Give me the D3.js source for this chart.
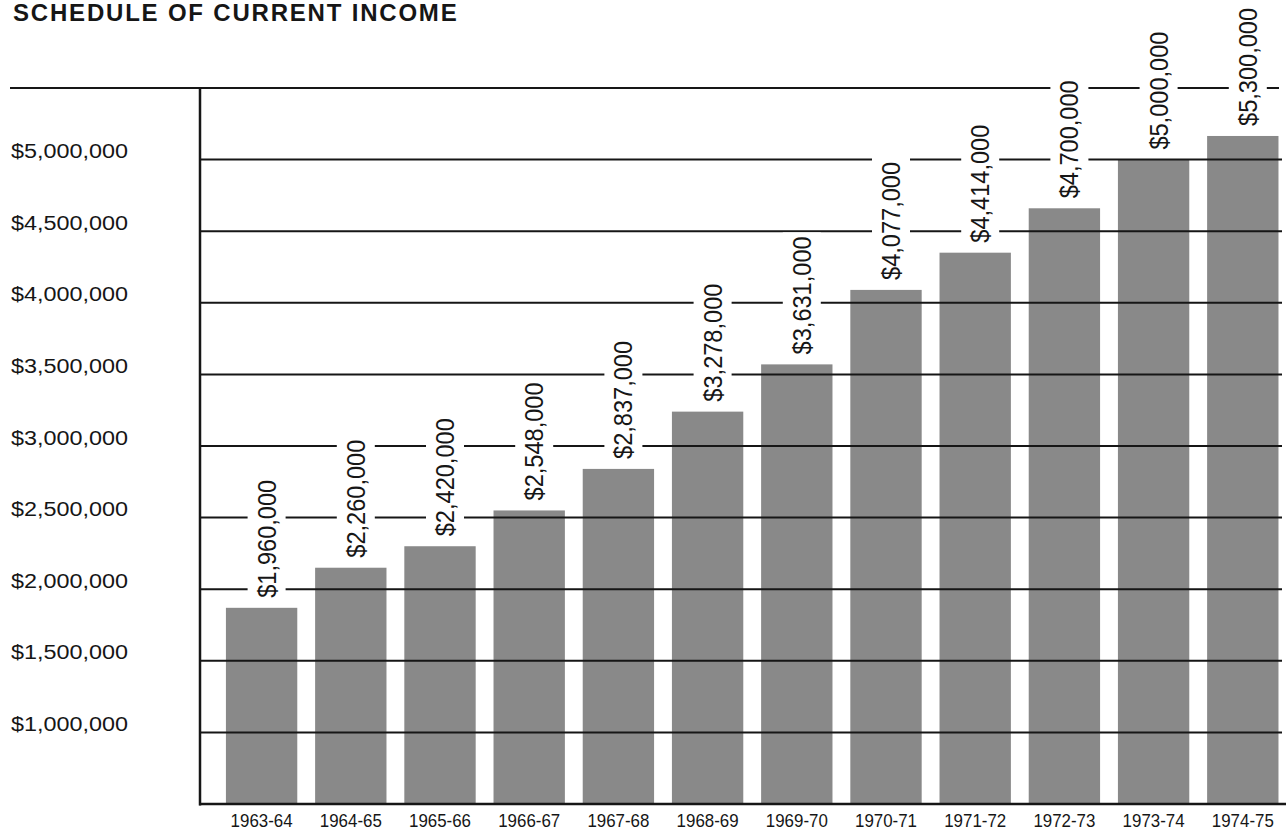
<!DOCTYPE html>
<html>
<head>
<meta charset="utf-8">
<script src="https://cdn.jsdelivr.net/npm/d3@7"></script>
<style>
  html, body { margin: 0; padding: 0; background: #ffffff; }
  svg { display: block; font-family: "Liberation Sans", Arial, Helvetica, sans-serif; }
</style>
</head>
<body>
<svg id="chart" width="1288" height="832"></svg>
<script>
// ---- data ----
const categories = ["1963-64","1964-65","1965-66","1966-67","1967-68","1968-69","1969-70","1970-71","1971-72","1972-73","1973-74","1974-75"];
// bar heights as drawn in the picture
const barValues = [1870000, 2150000, 2300000, 2550000, 2840000, 3240000, 3570000, 4090000, 4350000, 4660000, 5000000, 5165000];
// printed value labels
const valueLabels = ["$1,960,000","$2,260,000","$2,420,000","$2,548,000","$2,837,000","$3,278,000","$3,631,000","$4,077,000","$4,414,000","$4,700,000","$5,000,000","$5,300,000"];
const yTicks = [1000000, 1500000, 2000000, 2500000, 3000000, 3500000, 4000000, 4500000, 5000000];
const yTop = 5500000;
const yBase = 500000;
const title = "SCHEDULE OF CURRENT INCOME";

// ---- layout ----
const svg = d3.select("#chart");
const ink = "#161616";
const axisX = 200;

const x = d3.scaleBand().domain(categories).range([217, 1287.4]).paddingInner(0.2).paddingOuter(0.1);
const y = d3.scaleLinear().domain([yBase, yTop]).range([804, 88]);
const fmt = d3.format("$,");

// title
svg.append("text")
  .attr("x", 13).attr("y", 21)
  .attr("font-size", 24).attr("font-weight", "bold")
  .attr("letter-spacing", "1.8px")
  .attr("fill", ink)
  .text(title);

// bars
svg.append("g").selectAll("rect")
  .data(categories)
  .join("rect")
  .attr("x", d => x(d))
  .attr("width", x.bandwidth())
  .attr("y", (d, i) => y(barValues[i]))
  .attr("height", (d, i) => y(yBase) - y(barValues[i]))
  .attr("fill", "#898989");

// gridlines (drawn over bars)
svg.append("g").selectAll("line")
  .data(yTicks)
  .join("line")
  .attr("x1", axisX).attr("x2", 1282)
  .attr("y1", d => y(d)).attr("y2", d => y(d))
  .attr("stroke", ink).attr("stroke-width", 2);

// top line
svg.append("line")
  .attr("x1", 10).attr("x2", 1279)
  .attr("y1", y(yTop)).attr("y2", y(yTop))
  .attr("stroke", ink).attr("stroke-width", 2);

// y tick labels
svg.append("g").selectAll("text")
  .data(yTicks)
  .join("text")
  .attr("x", 11)
  .attr("y", d => y(d) - 1.5)
  .attr("font-size", 20)
  .attr("textLength", 117)
  .attr("lengthAdjust", "spacingAndGlyphs")
  .attr("fill", ink)
  .text(d => fmt(d));

// value labels with white knockout behind them
const lblSize = 25, lblLen = 118, lblGap = 10, lblOffset = 14;
const labels = svg.append("g").selectAll("g")
  .data(categories)
  .join("g")
  .attr("transform", (d, i) => `translate(${x(d) + x.bandwidth() / 2 + lblOffset},${y(barValues[i]) - lblGap})`);

labels.append("rect")
  .attr("x", -28).attr("width", 38)
  .attr("y", -lblLen - 4).attr("height", lblLen + 7)
  .attr("fill", "#ffffff");
labels.append("text")
  .attr("transform", "rotate(-90)")
  .attr("font-size", lblSize)
  .attr("textLength", lblLen)
  .attr("lengthAdjust", "spacingAndGlyphs")
  .attr("fill", ink)
  .text((d, i) => valueLabels[i]);

// axes
svg.append("line")
  .attr("x1", axisX).attr("x2", axisX)
  .attr("y1", y(yTop) - 1).attr("y2", y(yBase) + 1.5)
  .attr("stroke", ink).attr("stroke-width", 2.5);
svg.append("line")
  .attr("x1", axisX - 1).attr("x2", 1286)
  .attr("y1", y(yBase)).attr("y2", y(yBase))
  .attr("stroke", ink).attr("stroke-width", 2.5);

// category axis
const xAxis = svg.append("g")
  .attr("transform", `translate(0,${y(yBase)})`)
  .call(d3.axisBottom(x).tickSize(0).tickPadding(0));
xAxis.select(".domain").remove();
xAxis.selectAll("text")
  .attr("y", 23).attr("dy", null)
  .attr("font-size", 19)
  .attr("font-family", "Liberation Sans, Arial, sans-serif")
  .attr("fill", ink)
  .attr("textLength", 62)
  .attr("lengthAdjust", "spacingAndGlyphs");
</script>
</body>
</html>
